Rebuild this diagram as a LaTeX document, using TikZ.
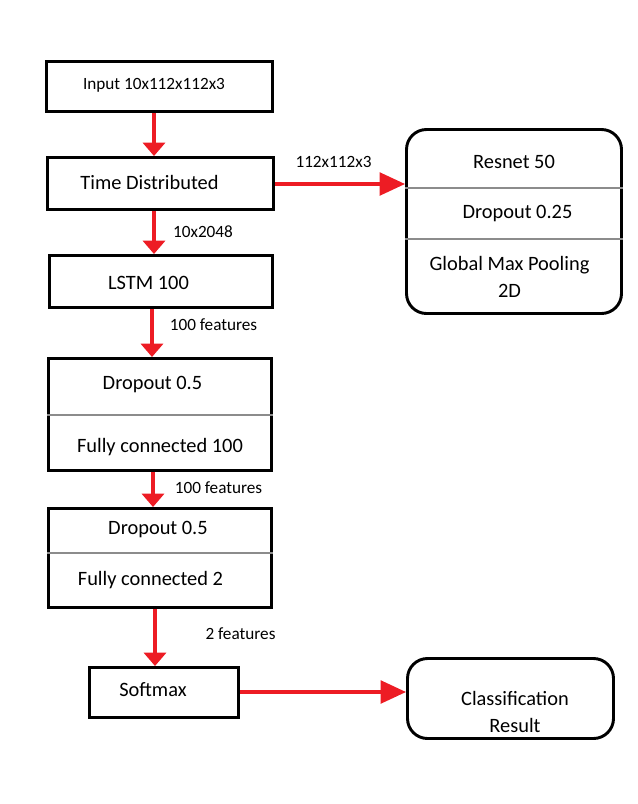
\documentclass[tikz,border=0pt]{standalone}
\usepackage{fontspec}
\setmainfont{Carlito}
\usetikzlibrary{arrows.meta}
\definecolor{pred}{RGB}{237,28,36}
\definecolor{divgray}{RGB}{140,140,140}
\begin{document}
\begin{tikzpicture}[x=0.75pt,y=-0.75pt,
  blk/.style n args={2}{draw=black, line width=2.2pt, inner sep=0pt, minimum width=#1, minimum height=#2},
  rblk/.style n args={2}{blk={#1}{#2}, rounded corners=15pt},
  big/.style={font=\fontsize{15.3}{20.25}\selectfont, inner sep=0pt, align=center},
  small/.style={font=\fontsize{12.9}{15.5}\selectfont, inner sep=0pt},
  vflow/.style={draw=pred, line width=2.4pt, -{Triangle[width=16.5pt,length=10pt]}},
  hflow/.style={draw=pred, line width=2.4pt, -{Triangle[width=17pt,length=19pt]}},
  divider/.style={draw=divgray, line width=0.8pt}]
\useasboundingbox (0,0) rectangle (638,804);
% boxes
\node[blk={169.5pt}{37.5pt}] (inp) at (159.5,86.5) {};
\node[blk={169.5pt}{39pt}] (td) at (160.5,183.5) {};
\node[blk={167.25pt}{39pt}] (lstm) at (161,281.5) {};
\node[rblk={161.25pt}{138pt}] (res) at (514,221.5) {};
\node[blk={167.25pt}{84pt}] (fc1) at (160,414.5) {};
\node[blk={167.25pt}{74.25pt}] (fc2) at (160,558) {};
\node[blk={111.75pt}{37.5pt}] (soft) at (164,692.5) {};
\node[rblk={154.5pt}{60pt}] (cls) at (510.5,698.5) {};
% dividers
\draw[divider] (res.west |- 0,188) -- (res.east |- 0,188);
\draw[divider] (res.west |- 0,239) -- (res.east |- 0,239);
\draw[divider] (fc1.west |- 0,415) -- (fc1.east |- 0,415);
\draw[divider] (fc2.west |- 0,553) -- (fc2.east |- 0,553);
% texts
\node[small] (tinp) at (154,85) {Input 10x112x112x3};
\node[big] (ttd) at (149.5,182) {Time Distributed};
\node[big] (tlstm) at (148.5,283) {LSTM 100};
\node[big] (tres1) at (514,162) {Resnet 50};
\node[big] (tres2) at (517.5,214) {Dropout 0.25};
\node[big] (tres3) at (509.5,276.5) {Global Max Pooling\\2D};
\node[big] (tfc1a) at (152.5,385) {Dropout 0.5};
\node[big] (tfc1b) at (160,447) {Fully connected 100};
\node[big] (tfc2a) at (158,530) {Dropout 0.5};
\node[big] (tfc2b) at (150.5,580) {Fully connected 2};
\node[big] (tsoft) at (153,690) {Softmax};
\node[big] (tcls) at (515,711.5) {Classification\\Result};
% labels
\node[small] (l1) at (203,232) {10x2048};
\node[small] (l2) at (333.5,162) {112x112x3};
\node[small] (l3) at (213.5,325) {100 features};
\node[small] (l4) at (218.5,488) {100 features};
\node[small] (l5) at (240.5,634) {2 features};
% arrows
\draw[vflow] (inp.south -| 154,0) -- (td.north -| 154,0);
\draw[vflow] (td.south -| 154,0) -- (lstm.north -| 154,0);
\draw[vflow] (lstm.south -| 152,0) -- (fc1.north -| 152,0);
\draw[vflow] (fc1.south -| 153,0) -- (fc2.north -| 153,0);
\draw[vflow] (fc2.south -| 155,0) -- (soft.north -| 155,0);
\draw[hflow] (td.east |- 0,184) -- (res.west |- 0,184);
\draw[hflow] (soft.east |- 0,692) -- (cls.west |- 0,692);
\end{tikzpicture}
\end{document}
